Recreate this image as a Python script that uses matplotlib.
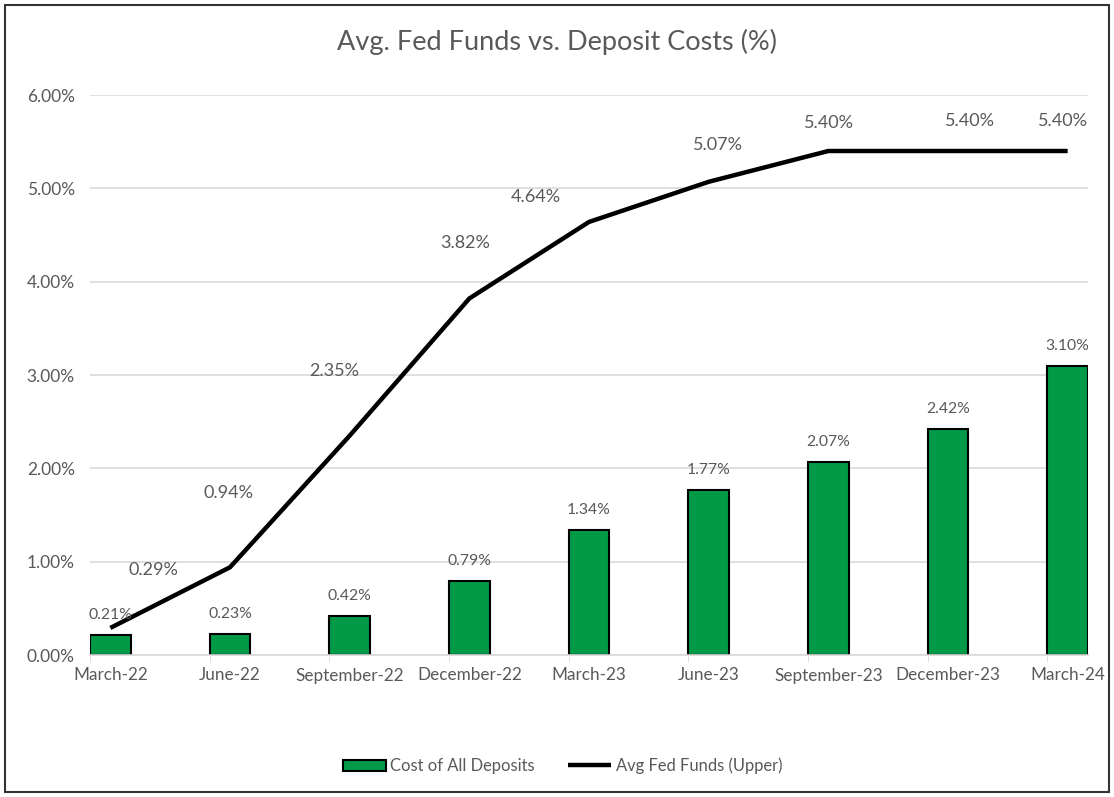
import matplotlib.pyplot as plt
from matplotlib.patches import Rectangle
from matplotlib.ticker import FuncFormatter

quarters = ['March-22', 'June-22', 'September-22', 'December-22', 'March-23',
            'June-23', 'September-23', 'December-23', 'March-24']
deposit_cost = [0.21, 0.23, 0.42, 0.79, 1.34, 1.77, 2.07, 2.42, 3.10]
fed_funds = [0.29, 0.94, 2.35, 3.82, 4.64, 5.07, 5.40, 5.40, 5.40]

# label offsets for the line labels (pixels)
line_label_offsets = [(43, 58), (-2, 74), (-15, 65), (-4, 55), (-53, 25),
                      (9, 37), (1, 28), (22, 30), (-5, 30)]

plt.rcParams['font.family'] = ['Lato', 'DejaVu Sans']
grey = '#595959'
green = '#009A46'

fig = plt.figure(figsize=(11.14, 7.97), dpi=100)
ax = fig.add_axes([90 / 1114, 1 - 655 / 797, 998 / 1114, 560 / 797])

x = list(range(len(quarters)))
bw = 0.34
bars = ax.bar(x, deposit_cost, width=bw, color=green, edgecolor='black', linewidth=1.5,
              label='Cost of All Deposits', zorder=2)
line, = ax.plot(x, fed_funds, color='black', linewidth=3.2, label='Avg Fed Funds (Upper)',
                zorder=3, solid_capstyle='butt')

for xi, v in zip(x, deposit_cost):
    ax.annotate(f'{v:.2f}%', (xi, v), xytext=(0, 20), textcoords='offset pixels',
                ha='center', va='center', fontsize=11.3, color=grey)

for xi, v, off in zip(x, fed_funds, line_label_offsets):
    ax.annotate(f'{v:.2f}%', (xi, v), xytext=off, textcoords='offset pixels',
                ha='center', va='center', fontsize=13, color=grey)

ax.set_xlim(-bw / 2, len(quarters) - 1 + bw / 2)
ax.set_ylim(0, 6)
ax.set_yticks([0, 1, 2, 3, 4, 5, 6])
ax.yaxis.set_major_formatter(FuncFormatter(lambda v, p: f'{v:.2f}%'))
ax.set_xticks(x)
ax.set_xticklabels(quarters)
ax.tick_params(axis='x', length=0, pad=9, labelsize=12.3, labelcolor=grey)
ax.tick_params(axis='y', length=0, pad=11, labelsize=12.5, labelcolor=grey)
ax.set_xticks([i - bw / 2 for i in x], minor=True)
ax.tick_params(axis='x', which='minor', length=5, color='#d9d9d9')
ax.grid(axis='y', color='#d9d9d9', linewidth=1.2, zorder=0)
ax.set_axisbelow(True)
for s in ['top', 'right', 'left']:
    ax.spines[s].set_visible(False)
ax.spines['bottom'].set_color('#d9d9d9')
ax.spines['bottom'].set_linewidth(1.2)

fig.text(0.5, 1 - 42 / 797, 'Avg. Fed Funds vs. Deposit Costs (%)', ha='center', va='center',
         fontsize=19.5, color=grey)

fig.legend([bars, line], ['Cost of All Deposits', 'Avg Fed Funds (Upper)'],
           loc='center', bbox_to_anchor=(0.505, 1 - 766 / 797), ncol=2, frameon=False,
           fontsize=11.9, labelcolor=grey, handlelength=2.6, columnspacing=2.0,
           handletextpad=0.3)

fig.patches.append(Rectangle((5 / 1114, 5 / 797), 1 - 10 / 1114, 1 - 10 / 797,
                             transform=fig.transFigure, fill=False, edgecolor='#333333',
                             linewidth=1.5))

fig.savefig('out.png', dpi=100)
